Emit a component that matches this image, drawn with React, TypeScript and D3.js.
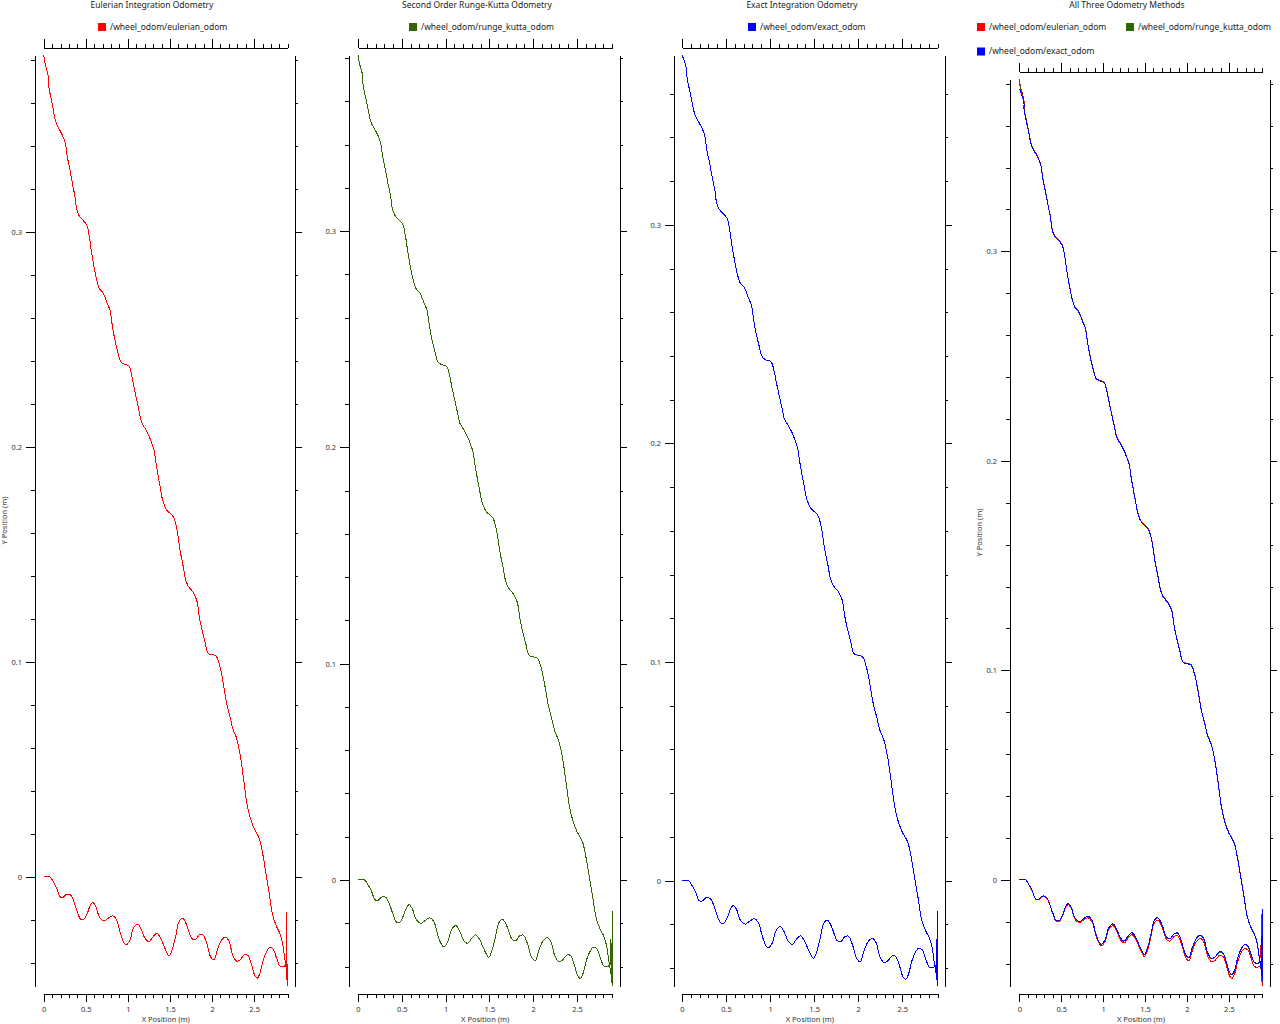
import React, { useEffect, useRef } from 'react';
import * as d3 from 'd3';

// outgoing leg: robot wiggles along x near y = 0
const wiggleX = [0, 0.036, 0.075, 0.114, 0.154, 0.194, 0.233, 0.273, 0.321, 0.36, 0.399, 0.439, 0.479, 0.518, 0.55, 0.582, 0.621, 0.66, 0.716, 0.767, 0.819, 0.867, 0.906, 0.938, 0.977, 1.025, 1.064, 1.116, 1.164, 1.203, 1.251, 1.295, 1.342, 1.39, 1.441, 1.492, 1.532, 1.571, 1.607, 1.651, 1.698, 1.758, 1.797, 1.848, 1.888, 1.936, 1.983, 2.023, 2.062, 2.114, 2.162, 2.204, 2.245, 2.292, 2.331, 2.391, 2.43, 2.47, 2.51, 2.537, 2.569, 2.608, 2.648, 2.688, 2.727, 2.767, 2.806, 2.846, 2.878];
const eulerWiggleY = [0, 0.0001, 0, -0.0022, -0.0053, -0.0092, -0.0094, -0.008, -0.0084, -0.0115, -0.0161, -0.0197, -0.0197, -0.0169, -0.0135, -0.0118, -0.0138, -0.0185, -0.0205, -0.0192, -0.0181, -0.02, -0.0254, -0.0293, -0.0316, -0.0293, -0.0239, -0.0219, -0.0247, -0.0285, -0.0301, -0.028, -0.0262, -0.0285, -0.0332, -0.0367, -0.0332, -0.027, -0.0208, -0.0192, -0.0223, -0.0285, -0.0293, -0.027, -0.0267, -0.0308, -0.0371, -0.0386, -0.034, -0.0293, -0.028, -0.0301, -0.0363, -0.0391, -0.0386, -0.036, -0.0367, -0.0409, -0.046, -0.0471, -0.0448, -0.0386, -0.0347, -0.0327, -0.0336, -0.0378, -0.0414, -0.0417, -0.0409];
const rkWiggleY = [0, 0.0001, 0, -0.0022, -0.0052, -0.0091, -0.0093, -0.0078, -0.0082, -0.0113, -0.0158, -0.0194, -0.0194, -0.0165, -0.0131, -0.0114, -0.0134, -0.018, -0.02, -0.0187, -0.0175, -0.0194, -0.0248, -0.0286, -0.0309, -0.0286, -0.0232, -0.0211, -0.0239, -0.0277, -0.0293, -0.0271, -0.0253, -0.0276, -0.0323, -0.0357, -0.0322, -0.026, -0.0198, -0.0182, -0.0212, -0.0274, -0.0282, -0.0258, -0.0255, -0.0296, -0.0358, -0.0373, -0.0327, -0.028, -0.0266, -0.0287, -0.0349, -0.0377, -0.0371, -0.0345, -0.0352, -0.0394, -0.0444, -0.0455, -0.0432, -0.037, -0.0331, -0.031, -0.0319, -0.0361, -0.0397, -0.04, -0.0392];
const exactWiggleY = [0, 0.0001, 0, -0.0022, -0.0052, -0.0091, -0.0093, -0.0078, -0.0082, -0.0113, -0.0158, -0.0194, -0.0194, -0.0165, -0.0131, -0.0113, -0.0133, -0.0179, -0.0199, -0.0186, -0.0174, -0.0193, -0.0247, -0.0285, -0.0308, -0.0285, -0.0231, -0.021, -0.0238, -0.0276, -0.0292, -0.027, -0.0252, -0.0275, -0.0322, -0.0356, -0.0321, -0.0259, -0.0197, -0.0181, -0.0211, -0.0273, -0.0281, -0.0257, -0.0254, -0.0295, -0.0357, -0.0371, -0.0325, -0.0278, -0.0264, -0.0285, -0.0347, -0.0375, -0.0369, -0.0343, -0.035, -0.0392, -0.0442, -0.0452, -0.043, -0.0368, -0.0329, -0.0308, -0.0317, -0.0359, -0.0395, -0.0398, -0.039];

// jitter at the far end
const eulerSpikeX = [2.884, 2.886, 2.887, 2.882, 2.884, 2.889, 2.893, 2.895, 2.9];
const eulerSpikeY = [-0.0404, -0.0163, -0.048, -0.031, -0.046, -0.0405, -0.0405, -0.0492, -0.0507];
const rkSpikeX = [2.888, 2.888, 2.89, 2.9, 2.902, 2.903];
const rkSpikeY = [-0.039, -0.0273, -0.0462, -0.039, -0.0143, -0.049];
const exactSpikeX = [2.886, 2.886, 2.888, 2.895, 2.901, 2.902];
const exactSpikeY = [-0.0386, -0.0269, -0.0456, -0.0384, -0.014, -0.0482];

// return leg, listed from the top-left end down to the far end
const diagX = [0, 0.015, 0.055, 0.057, 0.083, 0.107, 0.138, 0.162, 0.194, 0.233, 0.257, 0.28, 0.312, 0.344, 0.372, 0.392, 0.423, 0.47, 0.511, 0.542, 0.57, 0.597, 0.629, 0.66, 0.708, 0.755, 0.787, 0.808, 0.838, 0.874, 0.914, 0.954, 1.01, 1.045, 1.072, 1.105, 1.135, 1.164, 1.203, 1.251, 1.283, 1.31, 1.334, 1.361, 1.39, 1.413, 1.461, 1.539, 1.58, 1.619, 1.658, 1.682, 1.717, 1.77, 1.817, 1.848, 1.876, 1.916, 1.955, 2.046, 2.094, 2.133, 2.173, 2.213, 2.245, 2.292, 2.331, 2.371, 2.411, 2.45, 2.498, 2.561, 2.601, 2.64, 2.679, 2.72, 2.767, 2.806, 2.838, 2.866, 2.886];
const eulerDiagY = [0.3823, 0.3785, 0.3722, 0.3684, 0.3629, 0.3583, 0.3521, 0.3493, 0.3471, 0.344, 0.3413, 0.335, 0.3288, 0.3219, 0.3164, 0.3106, 0.3074, 0.3053, 0.3033, 0.2978, 0.2901, 0.2839, 0.2777, 0.2738, 0.2715, 0.2668, 0.2637, 0.2583, 0.2513, 0.2451, 0.2397, 0.2385, 0.2377, 0.2335, 0.228, 0.2219, 0.2164, 0.2113, 0.2087, 0.2051, 0.2017, 0.1986, 0.1924, 0.1862, 0.18, 0.1753, 0.1707, 0.1676, 0.1622, 0.1521, 0.1443, 0.1389, 0.1353, 0.1327, 0.1288, 0.1211, 0.1157, 0.1094, 0.104, 0.1028, 0.0978, 0.0901, 0.0808, 0.0746, 0.0692, 0.0645, 0.0575, 0.0467, 0.035, 0.028, 0.0227, 0.018, 0.011, 0.0017, -0.0076, -0.0177, -0.0231, -0.0262, -0.0308, -0.0386, -0.0433];
const rkDiagY = [0.3814, 0.3778, 0.3716, 0.3679, 0.3625, 0.358, 0.3518, 0.3491, 0.3469, 0.3438, 0.3411, 0.3348, 0.3286, 0.3217, 0.3162, 0.3104, 0.3072, 0.3051, 0.3031, 0.2976, 0.2899, 0.2837, 0.2775, 0.2736, 0.2713, 0.2666, 0.2635, 0.2581, 0.2511, 0.2449, 0.2395, 0.2383, 0.2375, 0.2333, 0.2278, 0.2217, 0.2162, 0.2111, 0.2085, 0.2049, 0.2015, 0.1984, 0.1922, 0.186, 0.1798, 0.1751, 0.1705, 0.1674, 0.162, 0.1519, 0.1441, 0.1387, 0.1351, 0.1325, 0.1286, 0.1209, 0.1155, 0.1092, 0.1038, 0.1026, 0.0976, 0.0899, 0.0806, 0.0744, 0.069, 0.0643, 0.0573, 0.0465, 0.0348, 0.0278, 0.0225, 0.0178, 0.0108, 0.0015, -0.0077, -0.0177, -0.023, -0.026, -0.0304, -0.038, -0.0425];
const exactDiagY = [0.3777, 0.3762, 0.3708, 0.3674, 0.3622, 0.3577, 0.3516, 0.3489, 0.3467, 0.3437, 0.341, 0.3347, 0.3285, 0.3216, 0.3161, 0.3103, 0.3071, 0.305, 0.303, 0.2975, 0.2898, 0.2836, 0.2774, 0.2735, 0.2712, 0.2665, 0.2634, 0.258, 0.251, 0.2448, 0.2394, 0.2382, 0.2374, 0.2332, 0.2277, 0.2216, 0.2161, 0.211, 0.2084, 0.2048, 0.2014, 0.1983, 0.1921, 0.1859, 0.1797, 0.175, 0.1704, 0.1673, 0.1619, 0.1518, 0.144, 0.1386, 0.135, 0.1324, 0.1285, 0.1208, 0.1154, 0.1091, 0.1037, 0.1025, 0.0975, 0.0898, 0.0805, 0.0743, 0.0689, 0.0642, 0.0572, 0.0464, 0.0347, 0.0277, 0.0224, 0.0177, 0.0107, 0.0014, -0.0078, -0.0178, -0.0231, -0.0261, -0.0306, -0.0382, -0.0428];

const seriesNames = ['/wheel_odom/eulerian_odom', '/wheel_odom/runge_kutta_odom', '/wheel_odom/exact_odom'];
const seriesColors = ['#ff0000', '#336600', '#0000ff'];
const panelTitles = ['Eulerian Integration Odometry', 'Second Order Runge-Kutta Odometry', 'Exact Integration Odometry', 'All Three Odometry Methods'];
const xMajorTicks = [0, 0.5, 1, 1.5, 2, 2.5];
const yMajorTicks = [0, 0.1, 0.2, 0.3];

const FONT = '"Noto Sans", "Open Sans", sans-serif';
const BOTTOM = 986;
const AXIS_B = 994;

type Pt = [number, number];
const toPts = (xs: number[], ys: number[]) => d3.zip(xs, ys) as Pt[];

const series = [
  { wiggle: toPts(wiggleX, eulerWiggleY), spike: toPts(eulerSpikeX, eulerSpikeY), diag: toPts(diagX, eulerDiagY) },
  { wiggle: toPts(wiggleX, rkWiggleY), spike: toPts(rkSpikeX, rkSpikeY), diag: toPts(diagX, rkDiagY) },
  { wiggle: toPts(wiggleX, exactWiggleY), spike: toPts(exactSpikeX, exactSpikeY), diag: toPts(diagX, exactDiagY) },
].map((s, i) => ({ ...s, name: seriesNames[i], color: seriesColors[i] }));

const panels = [
  { ids: [0], left: 43.7, right: 287.8, top: 55, axL: 35, axR: 295, axT: 48, titleX: 152, legend: [[98, 23]], yLabelX: 6.5 },
  { ids: [1], left: 358, right: 612.3, top: 55, axL: 349, axR: 620, axT: 48, titleX: 477, legend: [[409, 23]], yLabelX: 0 },
  { ids: [2], left: 682, right: 937.7, top: 55, axL: 674, axR: 945, axT: 48, titleX: 802, legend: [[748, 23]], yLabelX: 0 },
  { ids: [0, 1, 2], left: 1019.3, right: 1262.7, top: 79, axL: 1010, axR: 1270, axT: 72, titleX: 1127, legend: [[977, 23], [1126, 23], [977, 47.5]], yLabelX: 981.5 },
];

function styleAxis(sel: any) {
  sel.attr('font-family', FONT).attr('font-size', 7.5);
  sel.selectAll('path, line').attr('stroke', '#000').attr('shape-rendering', 'crispEdges');
  sel.selectAll('text').attr('fill', '#333');
}

export default function App() {
  const ref = useRef<SVGSVGElement>(null);

  useEffect(() => {
    const svg = d3.select(ref.current);
    svg.selectAll('*').remove();

    panels.forEach((p, pi) => {
      const ss = p.ids.map(i => series[i]);
      const all = ss.flatMap(s => [...s.wiggle, ...s.spike, ...s.diag]);
      const x = d3.scaleLinear().domain(d3.extent(all, d => d[0]) as [number, number]).range([p.left, p.right]);
      const y = d3.scaleLinear().domain(d3.extent(all, d => d[1]) as [number, number]).range([BOTTOM, p.top]);
      const [x0, x1] = x.domain();
      const [y0, y1] = y.domain();
      const xMinor = d3.range(0, 31).map(i => i / 10).filter(v => v >= x0 - 1e-9 && v <= x1 + 1e-9);
      const yMinor = d3.range(-3, 20).map(i => +(i * 0.02).toFixed(2)).filter(v => v >= y0 && v <= y1);
      const fmt = (d: any) => String(+(+d).toFixed(1));

      const g = svg.append('g');

      g.append('text')
        .attr('x', p.titleX).attr('y', 7.5)
        .attr('text-anchor', 'middle')
        .attr('font-family', FONT).attr('font-size', 8.5).attr('fill', '#222')
        .text(panelTitles[pi]);

      ss.forEach((s, k) => {
        const [lx, ly] = p.legend[k];
        g.append('rect').attr('x', lx).attr('y', ly).attr('width', 8).attr('height', 8).attr('fill', s.color);
        g.append('text')
          .attr('x', lx + 12).attr('y', ly + 6.5)
          .attr('font-family', FONT).attr('font-size', 8.5).attr('fill', '#222')
          .text(s.name);
      });

      // left / right axes
      g.append('g').attr('transform', `translate(${p.axL},0)`)
        .call(d3.axisLeft(y).tickValues(yMinor).tickSize(4).tickSizeOuter(0).tickFormat(() => ''))
        .call(styleAxis);
      g.append('g').attr('transform', `translate(${p.axL},0)`)
        .call(d3.axisLeft(y).tickValues(yMajorTicks).tickSize(9).tickPadding(4).tickSizeOuter(0).tickFormat(fmt))
        .call(styleAxis);
      g.append('g').attr('transform', `translate(${p.axR},0)`)
        .call(d3.axisRight(y).tickValues(yMinor).tickSize(3).tickSizeOuter(0).tickFormat(() => ''))
        .call(styleAxis);
      g.append('g').attr('transform', `translate(${p.axR},0)`)
        .call(d3.axisRight(y).tickValues(yMajorTicks).tickSize(7).tickSizeOuter(0).tickFormat(() => ''))
        .call(styleAxis);

      // top / bottom axes
      g.append('g').attr('transform', `translate(0,${p.axT})`)
        .call(d3.axisTop(x).tickValues(xMinor).tickSize(4).tickSizeOuter(0).tickFormat(() => ''))
        .call(styleAxis);
      g.append('g').attr('transform', `translate(0,${p.axT})`)
        .call(d3.axisTop(x).tickValues(xMajorTicks).tickSize(9).tickSizeOuter(0).tickFormat(() => ''))
        .call(styleAxis);
      g.append('g').attr('transform', `translate(0,${AXIS_B})`)
        .call(d3.axisBottom(x).tickValues(xMinor).tickSize(4).tickSizeOuter(0).tickFormat(() => ''))
        .call(styleAxis);
      g.append('g').attr('transform', `translate(0,${AXIS_B})`)
        .call(d3.axisBottom(x).tickValues(xMajorTicks).tickSize(8).tickPadding(5).tickSizeOuter(0).tickFormat(fmt))
        .call(styleAxis);

      g.append('text')
        .attr('x', (p.left + p.right) / 2).attr('y', 1021.5)
        .attr('text-anchor', 'middle')
        .attr('font-family', FONT).attr('font-size', 7.5).attr('fill', '#333')
        .text('X Position (m)');

      if (p.yLabelX) {
        g.append('text')
          .attr('transform', `translate(${p.yLabelX},${(p.top + BOTTOM) / 2}) rotate(-90)`)
          .attr('text-anchor', 'middle')
          .attr('font-family', FONT).attr('font-size', 7.5).attr('fill', '#333')
          .text('Y Position (m)');
      }

      const smooth = d3.line<Pt>().x(d => x(d[0])).y(d => y(d[1])).curve(d3.curveCatmullRom.alpha(0.5));
      const straight = d3.line<Pt>().x(d => x(d[0])).y(d => y(d[1]));

      ss.forEach(s => {
        const lg = g.append('g').attr('fill', 'none').attr('stroke', s.color).attr('stroke-width', 1)
          .attr('shape-rendering', 'crispEdges');
        lg.append('path').attr('d', smooth(s.wiggle));
        lg.append('path').attr('d', straight([s.wiggle[s.wiggle.length - 1], ...s.spike, s.diag[s.diag.length - 1]]));
        lg.append('path').attr('d', smooth(s.diag));
      });
    });
  }, []);

  return (
    <div style={{ position: 'absolute', left: 0, top: 0 }}>
      <svg ref={ref} width={1280} height={1024} style={{ display: 'block', background: '#fff' }} />
    </div>
  );
}
